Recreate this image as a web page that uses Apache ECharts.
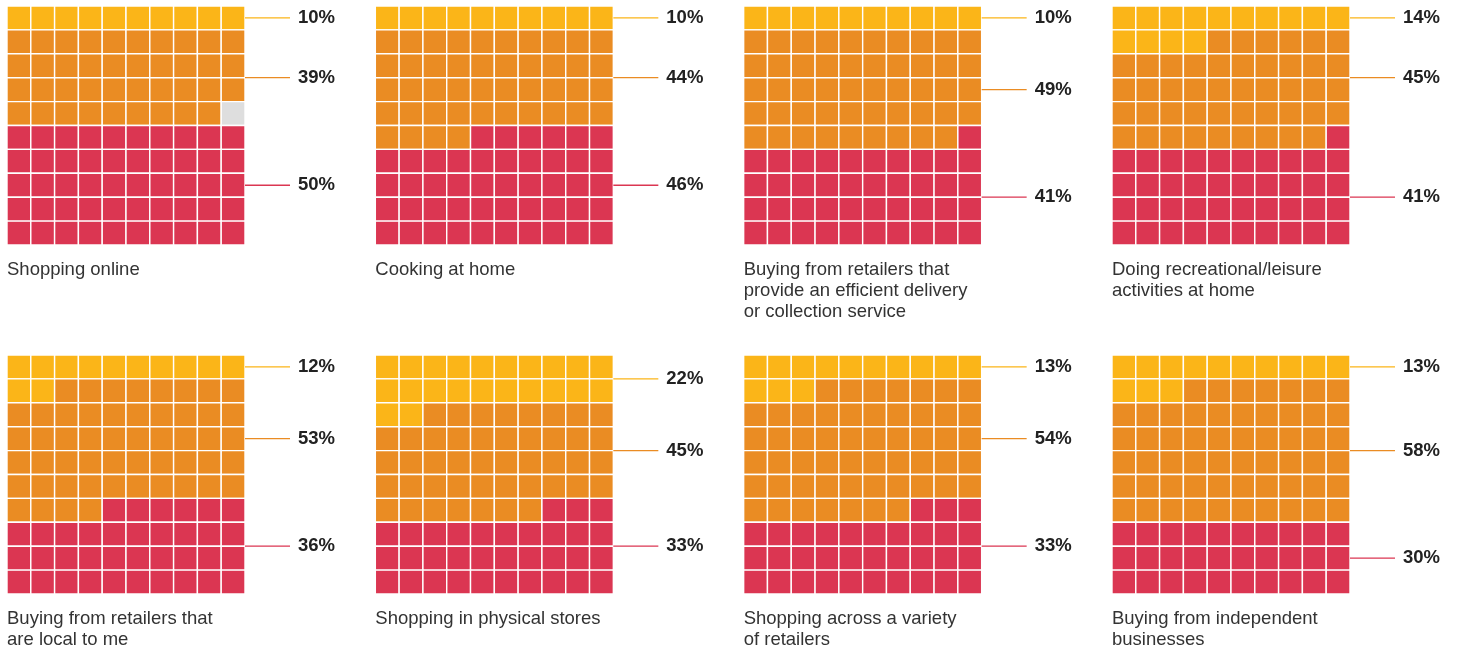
<!DOCTYPE html>
<html>
<head>
<meta charset="utf-8">
<script src="https://cdn.jsdelivr.net/npm/echarts@6/dist/echarts.min.js"></script>
<style>
html,body{margin:0;padding:0;background:#ffffff;}
#chart{width:1460px;height:650px;}
</style>
</head>
<body>
<div id="chart"></div>
<script>
// ---- data ----
const categories = [
  "Shopping online",
  "Cooking at home",
  "Buying from retailers that\nprovide an efficient delivery\nor collection service",
  "Doing recreational/leisure\nactivities at home",
  "Buying from retailers that\nare local to me",
  "Shopping in physical stores",
  "Shopping across a variety\nof retailers",
  "Buying from independent\nbusinesses"
];
const yellowPct = [10, 10, 10, 14, 12, 22, 13, 13];
const orangePct = [39, 44, 49, 45, 53, 45, 54, 58];
const redPct    = [50, 46, 41, 41, 36, 33, 33, 30];
const greyCells = [1, 0, 0, 0, 0, 0, 0, 0];

// ---- styling ----
const COLORS = ['#FBB518', '#EA8C23', '#DEDEDE', '#DB3652'];
const COLS = 10;
const FONT = '"Liberation Sans", Arial, Helvetica, sans-serif';

// label anchor (in row units from the top), snapped to half rows
function snap(v) { return Math.floor(v * 2 + 0.25) / 2; }

const chart = echarts.init(document.getElementById('chart'));
const grids = [], xAxes = [], yAxes = [], series = [], titles = [];

categories.forEach((name, k) => {
  const c = k % 4, r = Math.floor(k / 4);
  const left = 7 + c * 368.33;
  const top = r === 0 ? 6 : 355;
  grids.push({ left: left, top: top, width: 238, height: 239 });
  xAxes.push({ type: 'value', gridIndex: k, min: -0.5, max: 9.5, show: false });
  yAxes.push({ type: 'value', gridIndex: k, min: -0.5, max: 9.5, inverse: true, show: false });

  const y = yellowPct[k], red = redPct[k], g = greyCells[k];
  const o = 100 - y - red - g;
  const cells = [];
  for (let i = 0; i < 100; i++) {
    const cat = i < y ? 0 : (i < y + o ? 1 : (i < y + o + g ? 2 : 3));
    cells.push([i % COLS, Math.floor(i / COLS), cat]);
  }
  series.push({
    type: 'custom', xAxisIndex: k, yAxisIndex: k, silent: true, data: cells,
    renderItem: function (params, api) {
      const p0 = api.coord([api.value(0) - 0.5, api.value(1) - 0.5]);
      const p1 = api.coord([api.value(0) + 0.5, api.value(1) + 0.5]);
      return {
        type: 'rect',
        shape: { x: p0[0], y: p0[1], width: p1[0] - p0[0], height: p1[1] - p0[1] },
        style: { fill: COLORS[api.value(2)], stroke: '#ffffff', lineWidth: 1.4 }
      };
    }
  });

  const anchors = [
    [snap(yellowPct[k] / 20), 0, yellowPct[k]],
    [snap(Math.floor(yellowPct[k] / 10) + orangePct[k] / 20), 1, orangePct[k]],
    [snap(10 - redPct[k] / 20), 3, redPct[k]]
  ];
  const labels = anchors.map(function (a) { return [9.5, a[0] - 0.5, a[1], a[2]]; });
  series.push({
    type: 'custom', xAxisIndex: k, yAxisIndex: k, silent: true, data: labels,
    renderItem: function (params, api) {
      const p = api.coord([api.value(0), api.value(1)]);
      const col = COLORS[api.value(2)];
      return {
        type: 'group',
        children: [
          { type: 'line', shape: { x1: p[0], y1: p[1], x2: p[0] + 45, y2: p[1] },
            style: { stroke: col, lineWidth: 1.3 } },
          { type: 'text', style: { text: api.value(3) + '%', x: p[0] + 53, y: p[1],
            fill: '#222222', font: 'bold 18.5px ' + FONT, align: 'left', verticalAlign: 'middle' } }
        ]
      };
    }
  });

  titles.push({
    text: name, left: left, top: r === 0 ? 259 : 608, padding: 0,
    textStyle: { fontFamily: FONT, fontSize: 18.5, fontWeight: 'normal', color: '#333333', lineHeight: 21.3 }
  });
});

chart.setOption({
  animation: false,
  backgroundColor: '#ffffff',
  title: titles,
  grid: grids,
  xAxis: xAxes,
  yAxis: yAxes,
  series: series
});
</script>
</body>
</html>
